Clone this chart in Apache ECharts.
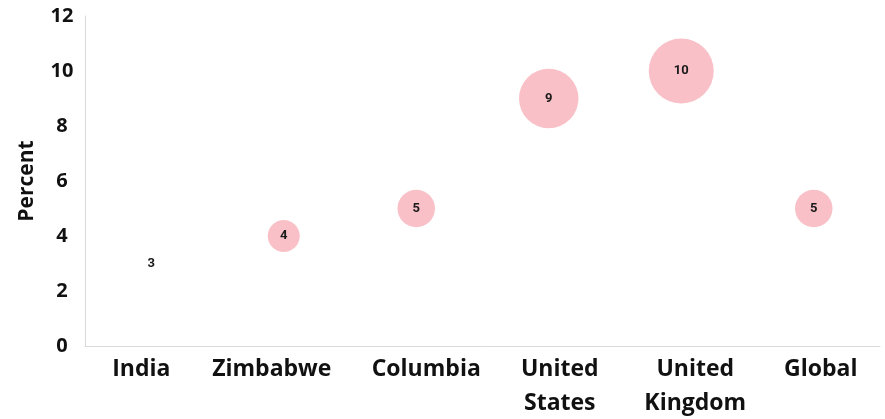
<!DOCTYPE html>
<html>
<head>
<meta charset="utf-8">
<script src="https://cdn.jsdelivr.net/npm/echarts@6/dist/echarts.min.js"></script>
<style>
  html, body { margin: 0; padding: 0; background: #ffffff; }
  #chart { width: 885px; height: 419px; }
</style>
</head>
<body>
<div id="chart"></div>
<script>
// Categories and their percentages
const categories = ['India', 'Zimbabwe', 'Columbia', 'United\nStates', 'United\nKingdom', 'Global'];
const percents = [3, 4, 5, 9, 10, 5];
const yTicks = [0, 2, 4, 6, 8, 10, 12];

// Small horizontal nudges (px) for the category labels
const labelNudge = [-10, -12, 10, 11, 14, 7];

const minVal = Math.min.apply(null, percents);

// Bubble diameter grows with the value; the smallest value gets no bubble
function bubbleSize(v) {
  return v <= minVal ? 0 : 10 + 5.5 * v;
}

const categoryItems = categories.map((name, i) => {
  const d = labelNudge[i];
  return {
    value: name,
    textStyle: { padding: d < 0 ? [0, -2 * d, 0, 0] : [0, 0, 0, 2 * d] }
  };
});

const chart = echarts.init(document.getElementById('chart'), null, { renderer: 'canvas' });

const boldFont = '"Open Sans", "Noto Sans", sans-serif';

chart.setOption({
  backgroundColor: '#ffffff',
  animation: false,
  grid: { left: 85, right: 5, top: 16, bottom: 73, outerBoundsMode: 'none', containLabel: false },
  xAxis: {
    type: 'category',
    data: categoryItems,
    boundaryGap: true,
    axisLine: { show: true, lineStyle: { color: '#d9d9d9', width: 1 } },
    axisTick: { show: false },
    axisLabel: {
      interval: 0,
      margin: 6,
      lineHeight: 34,
      fontFamily: boldFont,
      fontWeight: 'bold',
      fontSize: 23,
      color: '#111111'
    },
    splitLine: { show: false }
  },
  yAxis: {
    type: 'value',
    min: yTicks[0],
    max: yTicks[yTicks.length - 1],
    interval: yTicks[1] - yTicks[0],
    name: 'Percent',
    nameLocation: 'middle',
    nameGap: 47,
    nameRotate: 90,
    nameTextStyle: {
      fontFamily: boldFont,
      fontWeight: 'bold',
      fontSize: 21,
      color: '#111111'
    },
    axisLine: { show: true, lineStyle: { color: '#d9d9d9', width: 1 } },
    axisTick: { show: false },
    axisLabel: {
      margin: 23,
      align: 'center',
      fontFamily: boldFont,
      fontWeight: 'bold',
      fontSize: 20,
      color: '#111111'
    },
    splitLine: { show: false }
  },
  series: [{
    type: 'scatter',
    data: percents,
    symbol: 'circle',
    symbolSize: bubbleSize,
    itemStyle: { color: '#f9c1c7', opacity: 1 },
    label: {
      show: true,
      position: 'inside',
      formatter: p => String(p.value),
      fontFamily: 'Roboto, sans-serif',
      fontWeight: 'bold',
      fontSize: 13,
      color: '#1a1a1a'
    },
    emphasis: { disabled: true }
  }]
});
</script>
</body>
</html>
